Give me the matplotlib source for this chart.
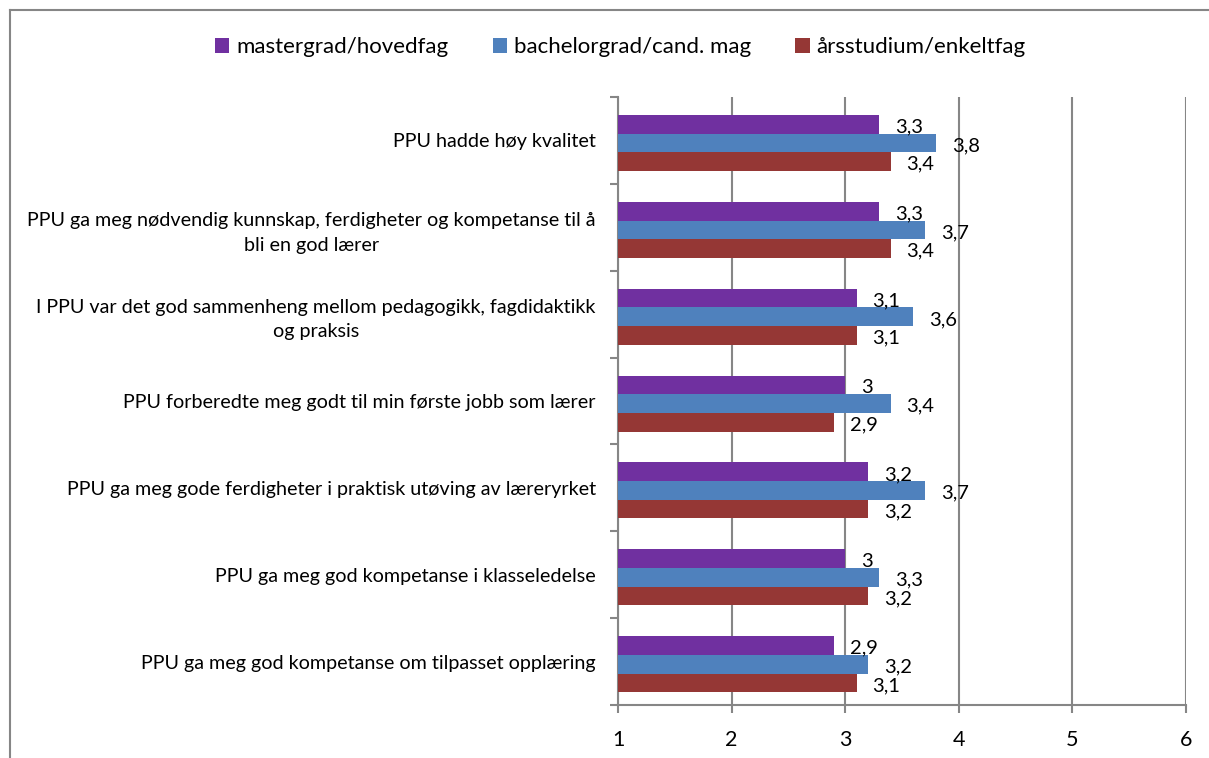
import matplotlib.pyplot as plt
from matplotlib.lines import Line2D
import numpy as np

plt.rcParams['font.family'] = ['Lato', 'DejaVu Sans']

categories = [
    "PPU hadde høy kvalitet",
    "PPU ga meg nødvendig kunnskap, ferdigheter og kompetanse til å\nbli en god lærer",
    "I PPU var det god sammenheng mellom pedagogikk, fagdidaktikk\nog praksis",
    "PPU forberedte meg godt til min første jobb som lærer",
    "PPU ga meg gode ferdigheter i praktisk utøving av læreryrket",
    "PPU ga meg god kompetanse i klasseledelse",
    "PPU ga meg god kompetanse om tilpasset opplæring",
]
series_names = ["mastergrad/hovedfag", "bachelorgrad/cand. mag", "årsstudium/enkeltfag"]
master = [3.3, 3.3, 3.1, 3.0, 3.2, 3.0, 2.9]
bachelor = [3.8, 3.7, 3.6, 3.4, 3.7, 3.3, 3.2]
aars = [3.4, 3.4, 3.1, 2.9, 3.2, 3.2, 3.1]
colors = ["#7030A0", "#4F81BD", "#953735"]

fig = plt.figure(figsize=(12.09, 7.58), dpi=100)
ax = fig.add_axes([0.5112, 0.0699, 0.4698, 0.8021])

n = len(categories)
y = np.arange(n)
h = 0.215
grid_col = "#868686"

for i, (vals, col, name) in enumerate(zip([master, bachelor, aars], colors, series_names)):
    pos = y + (i - 1) * h + 0.03
    ax.barh(pos, vals, height=h, left=0, color=col, label=name, zorder=3)
    for p, v in zip(pos, vals):
        txt = ("%g" % v).replace(".", ",")
        ax.text(v + 0.14, p + 0.03, txt, ha="left", va="center", fontsize=14.5, zorder=4)

ax.set_xlim(1, 6)
ax.set_ylim(n - 0.5, -0.5)
ax.set_xticks([1, 2, 3, 4, 5, 6])
ax.set_xticklabels(["1", "2", "3", "4", "5", "6"], fontsize=15.5)
ax.xaxis.grid(True, color=grid_col, linewidth=1.5, zorder=0)
ax.set_yticks(np.arange(-0.5, n, 1), minor=False)
ax.set_yticklabels([])
ax.set_yticks(y, minor=True)
ax.set_yticklabels(categories, minor=True, fontsize=14.2, multialignment="center",
                   linespacing=1.55)
ax.tick_params(axis="y", which="minor", length=0, pad=16)
ax.tick_params(axis="y", which="major", length=6, color=grid_col, width=1.5)
ax.tick_params(axis="x", length=6, color=grid_col, width=1.5, pad=12)
for s in ["top", "right"]:
    ax.spines[s].set_visible(False)
for s in ["left", "bottom"]:
    ax.spines[s].set_color(grid_col)
    ax.spines[s].set_linewidth(1.5)

fig.legend(loc="center", bbox_to_anchor=(0.513, 0.938), ncol=3, frameon=False,
           fontsize=16, handlelength=0.65, handleheight=0.65, handletextpad=0.3,
           columnspacing=2.0)

# outer chart frame
fig.add_artist(Line2D([10 / 1209, 1], [1 - 10 / 758, 1 - 10 / 758], color=grid_col, lw=1.5))
fig.add_artist(Line2D([10 / 1209, 10 / 1209], [0, 1 - 10 / 758], color=grid_col, lw=1.5))

fig.savefig("out.png", dpi=100)
